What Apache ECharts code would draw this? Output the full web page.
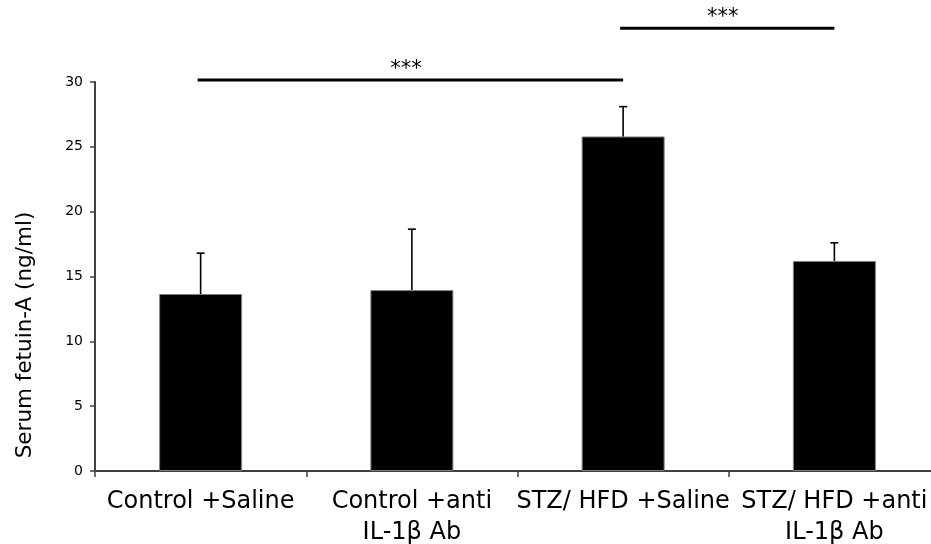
<!DOCTYPE html>
<html>
<head>
<meta charset="utf-8">
<script src="https://cdn.jsdelivr.net/npm/echarts@6/dist/echarts.min.js"></script>
<style>html,body{margin:0;padding:0;background:#fff}#c{width:931px;height:544px}</style>
</head>
<body>
<div id="c"></div>
<script>
var categories = ['Control +Saline', 'Control +anti\nIL-1β Ab', 'STZ/ HFD +Saline', 'STZ/ HFD +anti\nIL-1β Ab'];
var means = [13.65, 13.95, 25.8, 16.2];
var errors = [3.15, 4.7, 2.3, 1.4];
var yTicks = [0, 5, 10, 15, 20, 25, 30];
var sigLines = [[0, 2, 30.15, '***'], [2, 3, 34.15, '***']];
var yTitle = 'Serum fetuin-A (ng/ml)';

var FONT = 'DejaVu Sans';
var chart = echarts.init(document.getElementById('c'));
var errData = means.map(function (m, i) { return [i, m, m + errors[i]]; });

chart.setOption({
  animation: false,
  backgroundColor: '#fff',
  grid: { left: 95, width: 845, top: 82, height: 389, containLabel: false, outerBoundsMode: 'none' },
  xAxis: {
    type: 'category',
    data: categories,
    boundaryGap: true,
    axisLine: { lineStyle: { color: '#404040', width: 2 } },
    axisTick: { show: true, alignWithLabel: false, length: 6, lineStyle: { color: '#404040', width: 1.5 } },
    axisLabel: { color: '#000', fontFamily: FONT, fontSize: 24, lineHeight: 31, margin: 15, interval: 0 }
  },
  yAxis: {
    type: 'value',
    min: yTicks[0], max: yTicks[yTicks.length - 1], interval: 5,
    splitLine: { show: false },
    axisLine: { show: true, lineStyle: { color: '#404040', width: 2 } },
    axisTick: { show: true, length: 5, lineStyle: { color: '#404040', width: 1.5 } },
    axisLabel: { color: '#000', fontFamily: FONT, fontSize: 14, margin: 12 }
  },
  graphic: [{
    type: 'text', x: 25, y: 335, rotation: Math.PI / 2,
    style: { text: yTitle, fontFamily: FONT, fontSize: 21.5, fill: '#000', align: 'center', verticalAlign: 'middle' }
  }],
  series: [
    {
      type: 'bar', data: means, barWidth: 83,
      itemStyle: { color: '#000', borderColor: '#808080', borderWidth: 1 }
    },
    {
      type: 'custom', data: errData, clip: false, z: 5,
      encode: { x: 0, y: [1, 2] },
      renderItem: function (params, api) {
        var p0 = api.coord([api.value(0), api.value(1)]);
        var p1 = api.coord([api.value(0), api.value(2)]);
        var hw = 4;
        return {
          type: 'group',
          children: [
            { type: 'line', shape: { x1: p0[0], y1: p0[1], x2: p1[0], y2: p1[1] }, style: { stroke: '#000', lineWidth: 1.6 } },
            { type: 'line', shape: { x1: p1[0] - hw, y1: p1[1], x2: p1[0] + hw, y2: p1[1] }, style: { stroke: '#000', lineWidth: 1.6 } }
          ]
        };
      }
    },
    {
      type: 'custom', data: sigLines, clip: false, z: 5,
      encode: { x: [0, 1], y: 2 },
      renderItem: function (params, api) {
        var a = api.coord([api.value(0), api.value(2)]);
        var b = api.coord([api.value(1), api.value(2)]);
        var mid = (a[0] + b[0]) / 2;
        return {
          type: 'group',
          children: [
            { type: 'line', shape: { x1: a[0] - 3, y1: a[1], x2: b[0], y2: b[1] }, style: { stroke: '#000', lineWidth: 3 } },
            { type: 'text', x: mid - 6, y: a[1] - 11, style: { text: sigLines[params.dataIndex][3], fontFamily: FONT, fontSize: 21, fill: '#000', align: 'center', verticalAlign: 'middle' } }
          ]
        };
      }
    }
  ]
});
</script>
</body>
</html>
